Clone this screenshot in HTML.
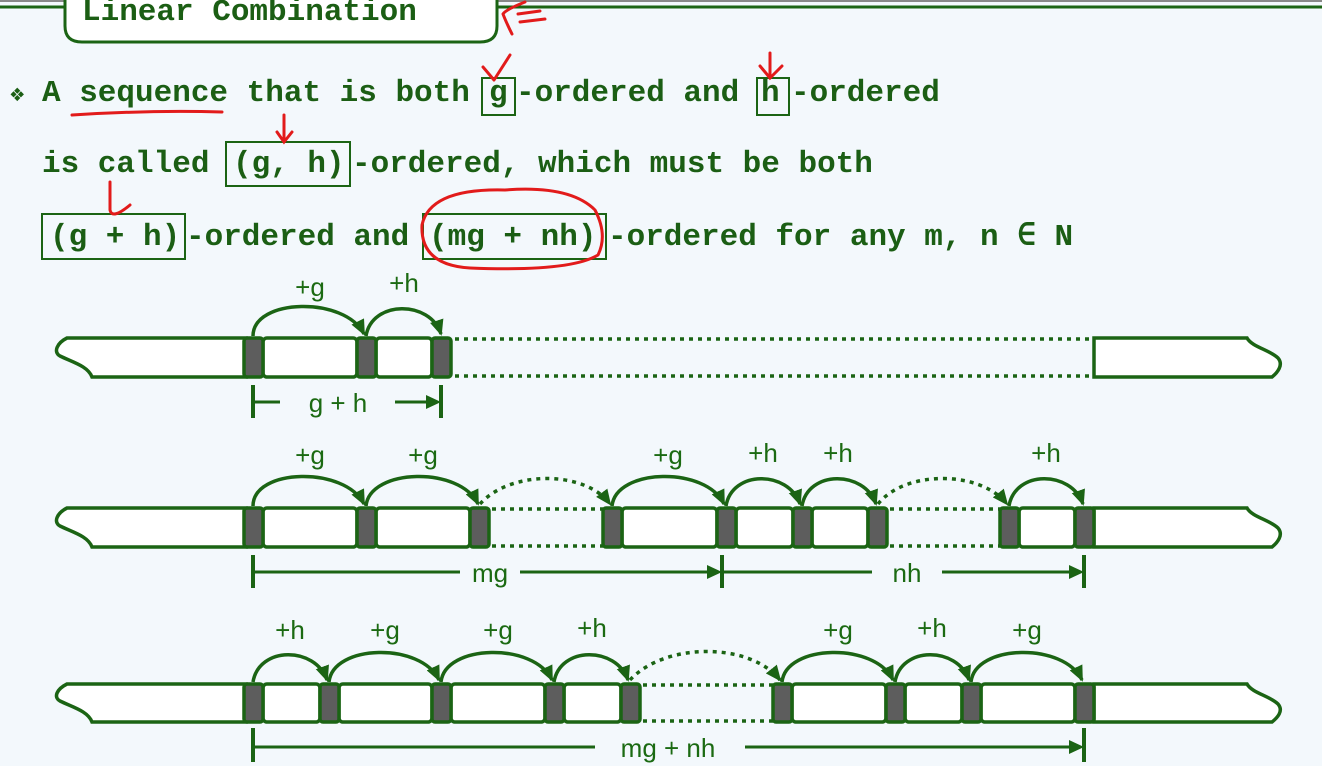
<!DOCTYPE html>
<html><head><meta charset="utf-8"><style>
html,body{margin:0;padding:0;background:#f3f8fc;}
svg{display:block;}
.t{font-family:"Liberation Mono",monospace;font-weight:bold;font-size:31px;fill:#1b5e14;}
.l{font-family:"Liberation Sans","DejaVu Sans",sans-serif;font-size:26px;fill:#1b6a12;}
.g{fill:none;stroke:#1b6414;stroke-width:3.5;}
.w{fill:#fff;stroke:#1b6414;stroke-width:3.5;}
.d{fill:#5d5d5d;stroke:#1b6414;stroke-width:3.5;}
.dot{stroke:#1b6414;stroke-width:3.5;stroke-dasharray:4 5;fill:none;}
.r{fill:none;stroke:#e21b1b;stroke-width:3;stroke-linecap:round;}
</style></head><body>
<svg width="1322" height="766" viewBox="0 0 1322 766">
<defs>
<marker id="a" markerWidth="18" markerHeight="16" refX="14" refY="8" orient="auto" markerUnits="userSpaceOnUse"><path d="M0,1 L16,8 L0,15 Z" fill="#1b6414"/></marker>
<marker id="b" markerWidth="16" markerHeight="16" refX="12" refY="8" orient="auto" markerUnits="userSpaceOnUse"><path d="M0,1 L15,8 L0,15 Z" fill="#1b6414"/></marker>
</defs>
<rect x="0" y="0" width="1322" height="2" fill="#888"/>
<line x1="0" y1="7" x2="65" y2="7" stroke="#1b6414" stroke-width="3"/>
<line x1="496" y1="7" x2="1322" y2="7" stroke="#1b6414" stroke-width="3"/>
<path d="M65,-5 L65,26 Q65,42 82,42 L480,42 Q497,42 497,26 L497,-5 Z" fill="#fff" stroke="#1b6414" stroke-width="3"/>
<text class="t" x="82" y="20">Linear Combination</text>

<text class="t" x="10" y="101" style="font-size:24px">❖</text>
<text class="t" x="42" y="101" xml:space="preserve">A sequence that is both </text>
<text class="t" x="489" y="101">g</text>
<text class="t" x="516" y="101" xml:space="preserve">-ordered and </text>
<text class="t" x="761" y="101">h</text>
<text class="t" x="791" y="101">-ordered</text>
<rect x="482" y="78" width="33" height="37" fill="none" stroke="#1b6414" stroke-width="2"/>
<rect x="757" y="78" width="32" height="37" fill="none" stroke="#1b6414" stroke-width="2"/>

<text class="t" x="42" y="172" xml:space="preserve">is called </text>
<text class="t" x="233" y="172">(g, h)</text>
<text class="t" x="352" y="172">-ordered, which must be both</text>
<rect x="226" y="142" width="124" height="44" fill="none" stroke="#1b6414" stroke-width="2"/>

<text class="t" x="50" y="245">(g + h)</text>
<text class="t" x="186" y="245" xml:space="preserve">-ordered and </text>
<text class="t" x="429" y="245">(mg + nh)</text>
<text class="t" x="608" y="245">-ordered for any m, n ∈ N</text>
<rect x="42" y="214" width="143" height="45" fill="none" stroke="#1b6414" stroke-width="2"/>
<rect x="423" y="214" width="183" height="45" fill="none" stroke="#1b6414" stroke-width="2"/>

<!-- red annotations -->
<path class="r" d="M525,2 Q505,10 503,14 Q506,22 512,34"/><path class="r" d="M518,14 L540,11 M520,22 L545,19"/>
<path class="r" d="M510,55 L494,80 M483,67 L494,80"/>
<path class="r" d="M72,115 Q150,110 222,112"/>
<path class="r" d="M770,53 L770,76 M760,66 L770,78 L782,66"/>
<path class="r" d="M284,115 L284,140 M277,132 L284,142 L292,132"/>
<path class="r" d="M110,182 L110,210 Q112,220 130,205"/>
<path class="r" d="M505,190 Q430,188 422,225 Q420,265 470,268 Q570,272 598,255 Q608,235 595,210 Q570,185 505,190"/>

<!-- ROW 1 -->
<path class="w" d="M67,338 L246,338 L246,377 L92,377 C88,366 72,362 60,356 C53,352 57,343 67,338 Z"/>
<rect class="w" x="263" y="338" width="94" height="39" rx="4"/>
<rect class="w" x="376" y="338" width="56" height="39" rx="4"/>
<rect class="d" x="244" y="338" width="19" height="39" rx="3"/>
<rect class="d" x="357" y="338" width="19" height="39" rx="3"/>
<rect class="d" x="432" y="338" width="19" height="39" rx="3"/>
<line class="dot" x1="455" y1="339" x2="1094" y2="339"/><line class="dot" x1="455" y1="376" x2="1094" y2="376"/>
<path class="w" d="M1094,338 L1247,338 C1252,347 1270,350 1278,358 C1284,365 1277,373 1272,377 L1094,377 Z"/>
<path class="g" d="M253,336 C253,298 345,296 364,334" marker-end="url(#a)"/>
<path class="g" d="M366,336 C372,300 430,300 441,334" marker-end="url(#a)"/>
<text class="l" x="310" y="296" text-anchor="middle">+g</text>
<text class="l" x="404" y="292" text-anchor="middle">+h</text>
<line x1="253" y1="385" x2="253" y2="418" stroke="#1b6414" stroke-width="4"/>
<line x1="441" y1="385" x2="441" y2="418" stroke="#1b6414" stroke-width="4"/>
<line x1="253" y1="402" x2="280" y2="402" stroke="#1b6414" stroke-width="3"/>
<line x1="395" y1="402" x2="438" y2="402" stroke="#1b6414" stroke-width="3" marker-end="url(#b)"/>
<text class="l" x="338" y="412" text-anchor="middle" xml:space="preserve">g + h</text>

<!-- ROW 2 -->
<path class="w" d="M67,508 L246,508 L246,547 L92,547 C88,536 72,532 60,526 C53,522 57,513 67,508 Z"/>
<rect class="w" x="263" y="508" width="94" height="39" rx="4"/>
<rect class="w" x="376" y="508" width="94" height="39" rx="4"/>
<rect class="w" x="622" y="508" width="95" height="39" rx="4"/>
<rect class="w" x="736" y="508" width="57" height="39" rx="4"/>
<rect class="w" x="812" y="508" width="56" height="39" rx="4"/>
<rect class="w" x="1019" y="508" width="56" height="39" rx="4"/>
<line class="dot" x1="492" y1="509" x2="603" y2="509"/><line class="dot" x1="492" y1="546" x2="603" y2="546"/>
<line class="dot" x1="890" y1="509" x2="1000" y2="509"/><line class="dot" x1="890" y1="546" x2="1000" y2="546"/>
<path class="w" d="M1094,508 L1247,508 C1252,517 1270,520 1278,528 C1284,535 1277,543 1272,547 L1094,547 Z"/>
<rect class="d" x="244" y="508" width="19" height="39" rx="3"/>
<rect class="d" x="357" y="508" width="19" height="39" rx="3"/>
<rect class="d" x="470" y="508" width="19" height="39" rx="3"/>
<rect class="d" x="603" y="508" width="19" height="39" rx="3"/>
<rect class="d" x="717" y="508" width="19" height="39" rx="3"/>
<rect class="d" x="793" y="508" width="19" height="39" rx="3"/>
<rect class="d" x="868" y="508" width="19" height="39" rx="3"/>
<rect class="d" x="1000" y="508" width="19" height="39" rx="3"/>
<rect class="d" x="1075" y="508" width="19" height="39" rx="3"/>
<path class="g" d="M253,506 C253,468 345,466 364,504" marker-end="url(#a)"/>
<path class="g" d="M366,506 C370,468 460,466 478,504" marker-end="url(#a)"/>
<path class="dot" d="M480,504 C510,470 585,470 610,504" marker-end="url(#a)"/>
<path class="g" d="M612,506 C616,468 706,466 724,504" marker-end="url(#a)"/>
<path class="g" d="M726,506 C732,470 788,470 800,504" marker-end="url(#a)"/>
<path class="g" d="M802,506 C808,470 864,470 876,504" marker-end="url(#a)"/>
<path class="dot" d="M878,504 C905,470 980,470 1007,504" marker-end="url(#a)"/>
<path class="g" d="M1009,506 C1015,470 1071,470 1083,504" marker-end="url(#a)"/>
<text class="l" x="310" y="464" text-anchor="middle">+g</text>
<text class="l" x="423" y="464" text-anchor="middle">+g</text>
<text class="l" x="668" y="464" text-anchor="middle">+g</text>
<text class="l" x="763" y="462" text-anchor="middle">+h</text>
<text class="l" x="838" y="462" text-anchor="middle">+h</text>
<text class="l" x="1046" y="462" text-anchor="middle">+h</text>
<line x1="253" y1="555" x2="253" y2="588" stroke="#1b6414" stroke-width="4"/>
<line x1="722" y1="555" x2="722" y2="588" stroke="#1b6414" stroke-width="4"/>
<line x1="1084" y1="555" x2="1084" y2="588" stroke="#1b6414" stroke-width="4"/>
<line x1="253" y1="572" x2="460" y2="572" stroke="#1b6414" stroke-width="3"/>
<line x1="520" y1="572" x2="719" y2="572" stroke="#1b6414" stroke-width="3" marker-end="url(#b)"/>
<line x1="724" y1="572" x2="872" y2="572" stroke="#1b6414" stroke-width="3"/>
<line x1="942" y1="572" x2="1081" y2="572" stroke="#1b6414" stroke-width="3" marker-end="url(#b)"/>
<text class="l" x="490" y="582" text-anchor="middle">mg</text>
<text class="l" x="907" y="582" text-anchor="middle">nh</text>

<!-- ROW 3 -->
<path class="w" d="M67,684 L246,684 L246,722 L92,722 C88,711 72,707 60,701 C53,697 57,689 67,684 Z"/>
<rect class="w" x="263" y="684" width="57" height="38" rx="4"/>
<rect class="w" x="339" y="684" width="93" height="38" rx="4"/>
<rect class="w" x="451" y="684" width="94" height="38" rx="4"/>
<rect class="w" x="564" y="684" width="57" height="38" rx="4"/>
<rect class="w" x="792" y="684" width="94" height="38" rx="4"/>
<rect class="w" x="905" y="684" width="57" height="38" rx="4"/>
<rect class="w" x="981" y="684" width="94" height="38" rx="4"/>
<line class="dot" x1="643" y1="685" x2="773" y2="685"/><line class="dot" x1="643" y1="721" x2="773" y2="721"/>
<path class="w" d="M1094,684 L1247,684 C1252,693 1270,696 1278,704 C1284,711 1277,718 1272,722 L1094,722 Z"/>
<rect class="d" x="244" y="684" width="19" height="38" rx="3"/>
<rect class="d" x="320" y="684" width="19" height="38" rx="3"/>
<rect class="d" x="432" y="684" width="19" height="38" rx="3"/>
<rect class="d" x="545" y="684" width="19" height="38" rx="3"/>
<rect class="d" x="621" y="684" width="19" height="38" rx="3"/>
<rect class="d" x="773" y="684" width="19" height="38" rx="3"/>
<rect class="d" x="886" y="684" width="19" height="38" rx="3"/>
<rect class="d" x="962" y="684" width="19" height="38" rx="3"/>
<rect class="d" x="1075" y="684" width="19" height="38" rx="3"/>
<path class="g" d="M253,682 C259,646 315,646 327,680" marker-end="url(#a)"/>
<path class="g" d="M329,682 C333,644 421,642 439,680" marker-end="url(#a)"/>
<path class="g" d="M441,682 C445,644 534,642 552,680" marker-end="url(#a)"/>
<path class="g" d="M554,682 C560,646 616,646 628,680" marker-end="url(#a)"/>
<path class="dot" d="M630,680 C665,642 750,642 780,680" marker-end="url(#a)"/>
<path class="g" d="M782,682 C786,644 875,642 893,680" marker-end="url(#a)"/>
<path class="g" d="M895,682 C901,646 957,646 969,680" marker-end="url(#a)"/>
<path class="g" d="M971,682 C975,644 1064,642 1082,680" marker-end="url(#a)"/>
<text class="l" x="290" y="639" text-anchor="middle">+h</text>
<text class="l" x="385" y="639" text-anchor="middle">+g</text>
<text class="l" x="498" y="639" text-anchor="middle">+g</text>
<text class="l" x="592" y="637" text-anchor="middle">+h</text>
<text class="l" x="838" y="639" text-anchor="middle">+g</text>
<text class="l" x="932" y="637" text-anchor="middle">+h</text>
<text class="l" x="1027" y="639" text-anchor="middle">+g</text>
<line x1="253" y1="728" x2="253" y2="762" stroke="#1b6414" stroke-width="4"/>
<line x1="1084" y1="728" x2="1084" y2="762" stroke="#1b6414" stroke-width="4"/>
<line x1="253" y1="747" x2="595" y2="747" stroke="#1b6414" stroke-width="3"/>
<line x1="745" y1="747" x2="1081" y2="747" stroke="#1b6414" stroke-width="3" marker-end="url(#b)"/>
<text class="l" x="668" y="757" text-anchor="middle" xml:space="preserve">mg + nh</text>
</svg>
</body></html>
